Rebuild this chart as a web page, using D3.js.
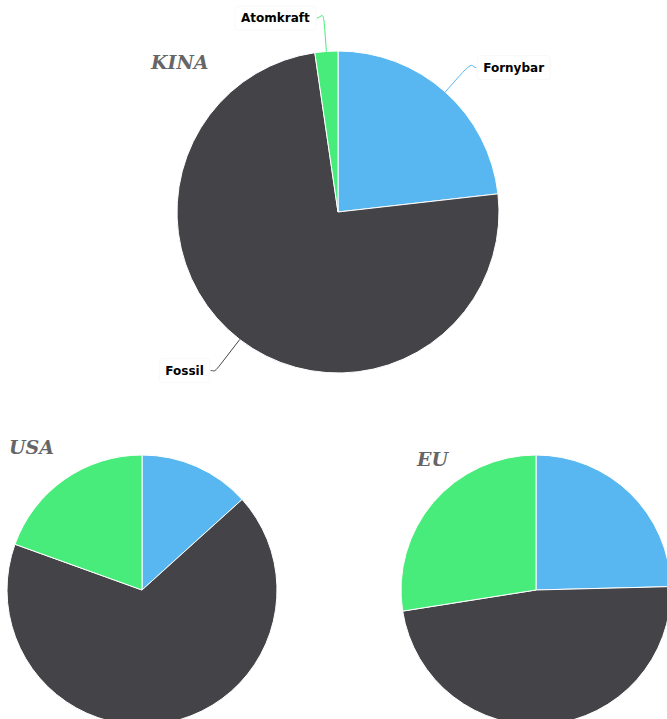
<!DOCTYPE html>
<html>
<head>
<meta charset="utf-8">
<script src="https://cdn.jsdelivr.net/npm/d3@7"></script>
<style>
  html, body { margin: 0; padding: 0; background: #ffffff; }
  svg { display: block; }
</style>
</head>
<body>
<svg id="chart" width="667" height="719"></svg>
<script>
// ---- data ----
const regions = ["KINA", "USA", "EU"];
const categories = ["Fornybar", "Fossil", "Atomkraft"];
const kinaValues = [23.2, 74.5, 2.3];
const usaValues = [13.3, 67.2, 19.5];
const euValues = [24.6, 47.9, 27.5];

// ---- layout / style ----
const colors = ["#58b7f0", "#434348", "#47ec7a"];
const layout = [
  { values: kinaValues, cx: 338, cy: 212, r: 161, labels: true,  tx: 151, ty: 69 },
  { values: usaValues,  cx: 142, cy: 590, r: 135, labels: false, tx: 9,   ty: 454 },
  { values: euValues,   cx: 536, cy: 590, r: 135, labels: false, tx: 417, ty: 466 }
];

const svg = d3.select("#chart");
const color = d3.scaleOrdinal().domain(categories).range(colors);
const pie = d3.pie().sort(null).startAngle(0).endAngle(2 * Math.PI).value(d => d.value);

layout.forEach((cfg, i) => {
  const data = categories.map((c, j) => ({ name: c, value: cfg.values[j] }));
  const arcs = pie(data);
  const arc = d3.arc().innerRadius(0).outerRadius(cfg.r);
  const g = svg.append("g").attr("transform", `translate(${cfg.cx},${cfg.cy})`);

  g.selectAll("path.slice")
    .data(arcs)
    .join("path")
    .attr("class", "slice")
    .attr("d", arc)
    .attr("fill", d => color(d.data.name))
    .attr("stroke", "#ffffff")
    .attr("stroke-width", 1)
    .attr("stroke-linejoin", "round");

  if (cfg.labels) {
    const dist = 36;
    arcs.forEach(d => {
      const a = (d.startAngle + d.endAngle) / 2;
      const s = Math.sin(a), c = Math.cos(a);
      const side = s >= 0 ? 1 : -1;
      const T = [cfg.r * s, -cfg.r * c];
      const B = [(cfg.r + 22) * s, -(cfg.r + 22) * c];
      const A = [(cfg.r + dist) * s + side * 2, -(cfg.r + dist) * c + 2.5];
      const path = `M${A[0] + side * 5},${A[1]} C${A[0]},${A[1]} ${2 * B[0] - T[0]},${2 * B[1] - T[1]} ${B[0]},${B[1]} L${T[0]},${T[1]}`;
      g.append("path")
        .attr("d", path)
        .attr("fill", "none")
        .attr("stroke", color(d.data.name))
        .attr("stroke-width", 1);

      const lg = g.append("g");
      const rect = lg.append("rect");
      const t = lg.append("text")
        .attr("x", A[0] + side * 12)
        .attr("y", A[1])
        .attr("dy", "0.35em")
        .attr("text-anchor", side > 0 ? "start" : "end")
        .attr("font-family", "'DejaVu Sans', Verdana, sans-serif")
        .attr("font-weight", "bold")
        .attr("font-size", "12px")
        .attr("fill", "#000000")
        .text(d.data.name);
      const bb = t.node().getBBox();
      rect.attr("x", bb.x - 6).attr("y", bb.y - 5)
        .attr("width", bb.width + 12).attr("height", bb.height + 10)
        .attr("rx", 3)
        .attr("fill", "#ffffff")
        .attr("stroke", "#000000")
        .attr("stroke-opacity", 0.03);
    });
  }

  svg.append("text")
    .attr("x", cfg.tx)
    .attr("y", cfg.ty)
    .attr("font-family", "'DejaVu Serif', Georgia, serif")
    .attr("font-weight", "bold")
    .attr("font-style", "italic")
    .attr("font-size", "19px")
    .attr("fill", "#666666")
    .text(regions[i]);
});
</script>
</body>
</html>
